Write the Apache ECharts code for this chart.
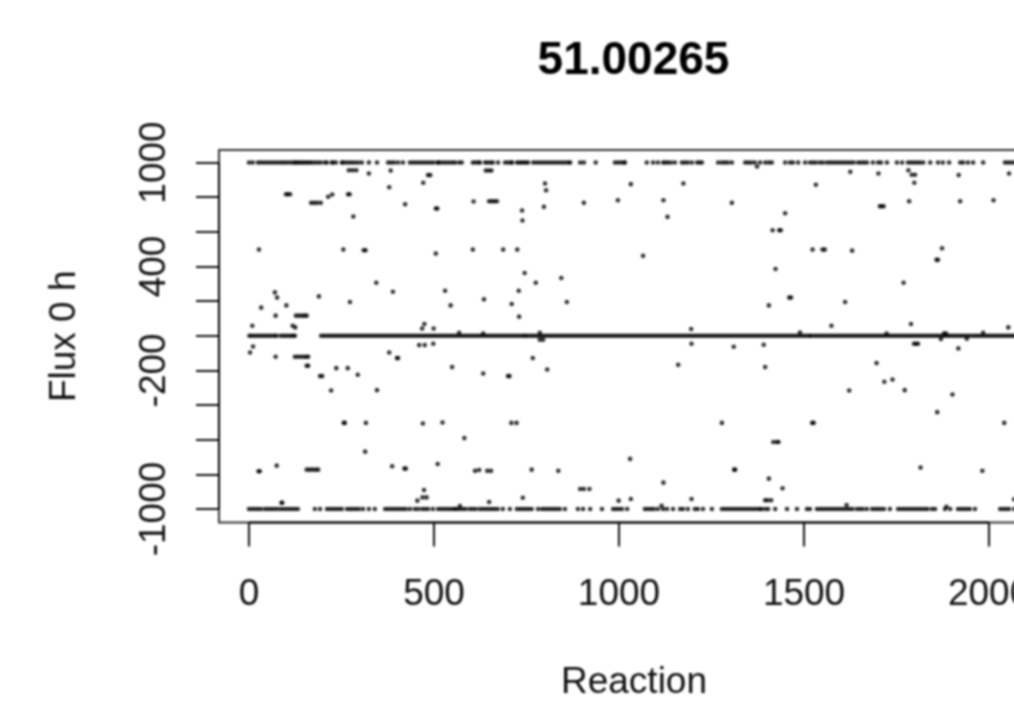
<!DOCTYPE html>
<html><head><meta charset="utf-8">
<style>html,body{margin:0;padding:0;background:#fff;overflow:hidden;width:1014px;height:717px}#c{width:1100px;height:717px;filter:blur(0.8px)}</style>
<script src="https://cdn.jsdelivr.net/npm/echarts@6/dist/echarts.min.js"></script></head>
<body><div id="c"></div>
<script>
const titleText='51.00265', xName='Reaction', yName='Flux 0 h';
const xTicks=[0,500,1000,1500,2000];
const yTicks=[-1000,-800,-600,-400,-200,0,200,400,600,800,1000];
const yLabels=[-1000,-200,400,1000];
const upperBoundX=[0,10,24,32,40,48,56,64,72,80,88,95,103,111,119,124,129,134,140,146,152,158,164,170,178,186,194,205,211,224,227,235,251,254,262,270,278,286,295,305,324,346,376,384,392,403,416,435,443,451,459,467,475,483,491,499,510,511,518,526,534,542,550,557,568,575,605,612,620,624,638,645,653,659,673,692,700,708,711,724,730,736,742,748,754,768,776,784,792,800,808,816,824,832,840,848,856,864,868,895,905,937,989,997,1005,1013,1016,1075,1092,1105,1119,1125,1132,1140,1151,1170,1178,1186,1197,1211,1218,1224,1268,1278,1286,1294,1305,1341,1349,1357,1367,1381,1395,1405,1413,1449,1462,1470,1484,1503,1516,1524,1532,1543,1551,1562,1570,1578,1586,1594,1602,1610,1618,1626,1634,1646,1654,1662,1670,1686,1700,1708,1724,1751,1765,1781,1789,1797,1805,1813,1822,1841,1862,1875,1892,1922,1930,1943,1957,1984,2043,2051,2059,2068];
const lowerBoundX=[0,8,16,24,32,43,51,59,67,75,84,92,100,108,116,124,132,178,192,211,219,227,235,243,251,265,273,281,289,297,308,324,340,368,376,384,392,400,408,416,424,435,448,457,468,476,484,497,511,519,527,535,543,551,557,562,570,578,586,597,605,613,624,632,640,648,656,664,672,686,705,724,732,740,748,756,764,781,792,800,808,816,824,832,840,854,889,903,922,954,984,992,1000,1008,1022,1070,1078,1086,1094,1105,1119,1130,1146,1165,1173,1186,1205,1213,1227,1251,1278,1286,1294,1302,1310,1318,1326,1334,1342,1350,1358,1366,1374,1381,1385,1395,1403,1422,1454,1481,1508,1516,1535,1543,1551,1559,1567,1575,1583,1591,1599,1607,1615,1623,1631,1643,1651,1659,1670,1684,1692,1700,1708,1716,1732,1754,1762,1770,1778,1786,1794,1802,1810,1818,1826,1834,1846,1854,1881,1895,1916,1924,1932,1940,1948,1962,2030,2038,2046,2054,2068];
const zeroX=[1,7,14,21,28,35,42,49,56,63,70,75,86,93,100,107,114,120,124,195,202,209,216,223,230,237,244,251,258,265,272,279,286,293,300,307,314,321,328,335,342,349,356,363,370,377,384,391,398,405,412,419,426,433,440,447,454,461,468,475,482,489,496,503,510,517,524,531,538,545,552,559,566,573,580,587,594,601,608,615,622,629,636,643,650,657,664,671,678,685,692,699,706,713,720,727,734,741,746,752,759,766,773,780,787,794,801,808,815,822,829,836,843,850,857,864,871,878,885,892,899,906,913,920,927,934,941,948,955,962,969,976,983,990,997,1004,1011,1018,1025,1032,1039,1046,1053,1060,1067,1074,1081,1088,1095,1102,1109,1116,1123,1130,1137,1144,1151,1158,1165,1172,1179,1186,1193,1200,1207,1214,1221,1228,1235,1242,1249,1256,1263,1270,1277,1284,1291,1298,1305,1312,1319,1326,1333,1340,1347,1354,1361,1368,1375,1382,1389,1396,1403,1410,1417,1424,1431,1438,1445,1452,1459,1466,1473,1480,1487,1494,1501,1508,1515,1519,1527,1534,1541,1548,1555,1562,1569,1576,1583,1590,1597,1604,1611,1618,1625,1632,1639,1646,1653,1660,1667,1674,1681,1688,1695,1702,1709,1716,1723,1730,1737,1744,1751,1758,1765,1772,1779,1786,1793,1800,1807,1814,1821,1828,1835,1842,1849,1856,1863,1870,1877,1884,1891,1898,1905,1912,1919,1926,1933,1940,1947,1955,1962,1969,1976,1983,1990,1997,2004,2011,2018,2025,2032,2039,2046,2053,2060,2067,2074,2081];
const otherX=[270,280,290,324,383,100,105,111,168,176,184,194,214,225,268,272,379,422,282,27,255,310,315,344,389,70,76,189,273,33,101,72,127,135,143,150,156,9,118,125,
11,3,72,124,132,140,148,155,160,156,160,192,198,236,267,294,222,346,379,400,403,256,259,316,314,26,29,75,156,164,172,180,187,387,420,424,88,90,
484,490,471,640,648,655,800,803,1032,1174,607,649,656,663,670,905,997,1120,797,505,509,738,739,1131,505,605,687,725,1065,745,775,844,530,729,635,710,545,859,730,474,468,499,1195,568,633,786,
460,475,498,786,795,549,767,633,700,704,806,1160,1196,470,523,709,723,582,510,611,622,644,654,764,836,1030,1120,473,469,480,455,740,649,895,905,920,999,1032,1196,570,1115,
1625,1701,1782,1791,1800,1798,1918,2054,1532,1305,1784,1705,1710,1715,1922,2012,1449,1415,1433,1437,1523,1550,1556,1630,1873,1858,1862,1423,1769,1460,1465,1405,1611,1574,1789,2052,1489,1723,1878,1884,1984,1373,
1310,1391,1395,1870,1940,1797,1803,1808,1917,1696,1717,1739,1772,1622,1901,1860,1278,1522,1526,2041,1417,1427,1431,1815,1982,1311,1314,1405,1442,1395,1401,1411,2068,1615,1885];
const otherY=[955,955,955,936,953,817,817,817,767,767,767,767,802,815,817,817,857,759,688,497,497,493,493,306,254,250,220,227,195,162,175,116,116,116,116,116,116,58,58,48,
-62,-97,-121,-121,-121,-121,-121,-121,-121,-173,-173,-233,-233,-187,-187,-225,-316,-314,-97,-129,-129,-503,-503,-503,-669,-782,-782,-750,-773,-773,-773,-773,-773,-753,-767,-767,-964,-964,
927,927,883,954,954,954,879,840,875,879,775,776,776,776,776,767,782,782,744,734,734,723,665,686,474,497,497,497,461,362,306,333,260,260,210,183,175,195,110,68,42,42,39,17,12,17,
-54,-54,-46,-23,-23,-181,-129,-218,-233,-233,-195,-168,-46,-507,-501,-503,-503,-591,-740,-780,-775,-780,-780,-773,-780,-711,-848,-890,-933,-933,-952,-935,-960,-885,-885,-885,-952,-942,-942,-983,-981,
946,936,955,929,929,883,927,936,871,767,776,747,747,747,776,782,707,609,609,609,497,497,497,491,505,438,438,385,306,220,220,175,195,58,68,48,19,12,12,12,17,977,
-64,-52,-181,-19,-17,-46,-46,-46,-73,-158,-266,-253,-314,-316,-339,-441,-503,-503,-503,-503,-613,-613,-613,-761,-780,-773,-773,-825,-880,-950,-950,-950,-944,-977,-987];
const xRange=[-81,2162], yRange=[-1078,1072];

const row=(xs,y)=>xs.map(x=>[x,y]);
const points=[...row(upperBoundX,1000),...row(lowerBoundX,-1000),...row(zeroX,0),...otherX.map((x,i)=>[x,otherY[i]])];
const font='"Liberation Sans",Arial,sans-serif', ink='#111';
const plain=v=>String(v);
const chart=echarts.init(document.getElementById('c'),null,{renderer:'canvas'});
chart.setOption({
 animation:false,backgroundColor:'#fff',
 title:{text:titleText,left:628.5,top:33,textAlign:'center',textStyle:{fontFamily:font,fontSize:46,fontWeight:'bold',color:'#000'}},
 grid:{left:219,right:51,top:150,bottom:194.5,show:true,borderColor:'#333',borderWidth:2,backgroundColor:'transparent'},
 xAxis:{type:'value',min:xRange[0],max:xRange[1],splitLine:{show:false},
  name:xName,nameLocation:'middle',nameGap:142,nameTextStyle:{fontFamily:font,fontSize:37,color:ink},
  axisLine:{show:false,onZero:false},
  axisTick:{show:true,length:24,customValues:xTicks,lineStyle:{color:'#111',width:2}},
  axisLabel:{customValues:xTicks,margin:54,formatter:plain,fontFamily:font,fontSize:37,color:ink}},
 yAxis:{type:'value',min:yRange[0],max:yRange[1],splitLine:{show:false},
  name:yName,nameLocation:'middle',nameGap:136,nameRotate:90,nameTextStyle:{fontFamily:font,fontSize:37,color:ink},
  axisLine:{show:false,onZero:false},
  axisTick:{show:true,length:23,customValues:yTicks,lineStyle:{color:'#111',width:2}},
  axisLabel:{customValues:yLabels,rotate:90,margin:46,formatter:plain,fontFamily:font,fontSize:37,color:ink}},
 series:[
  {type:'scatter',data:points,symbol:'circle',symbolSize:4.6,itemStyle:{color:'#000'},silent:true},
  {type:'line',data:[[xTicks[0],yRange[0]],[xTicks[4],yRange[0]]],symbol:'none',clip:false,silent:true,lineStyle:{color:'#000',width:2}},
  {type:'line',data:[[xRange[0],yTicks[0]],[xRange[0],yTicks[10]]],symbol:'none',clip:false,silent:true,lineStyle:{color:'#000',width:2}}
 ]
});
</script></body></html>
